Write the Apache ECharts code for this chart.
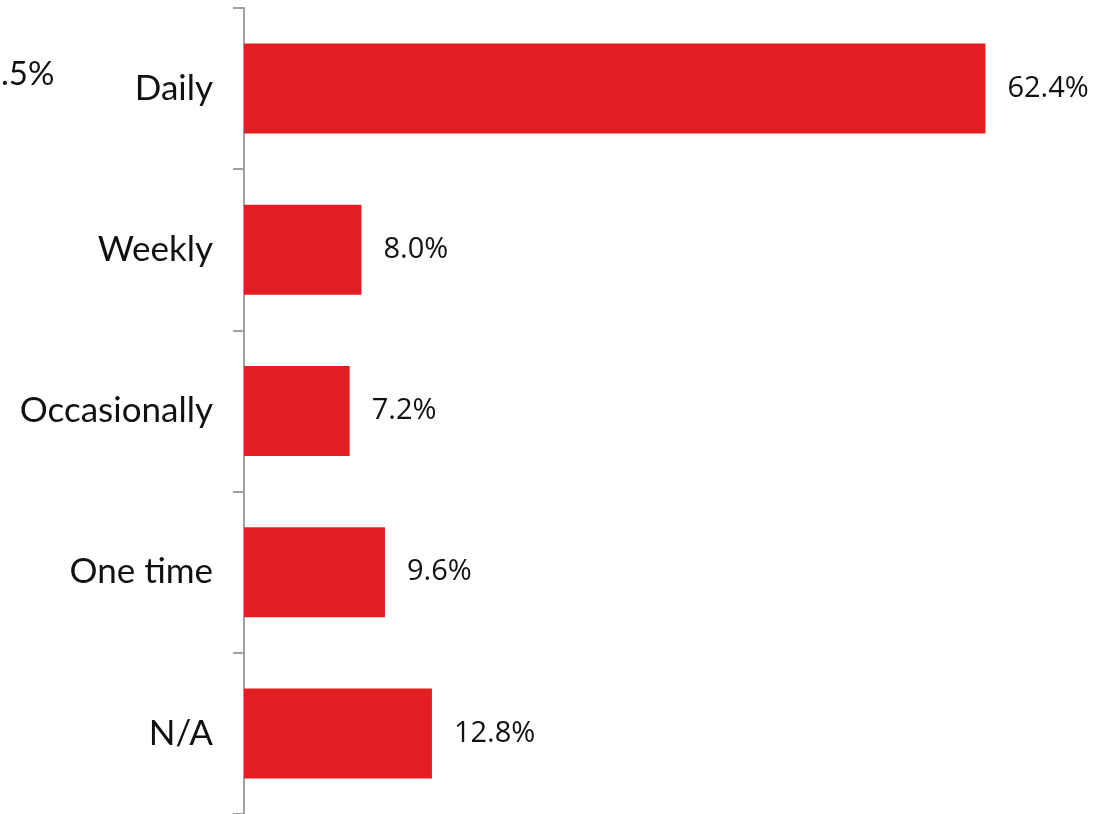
<!DOCTYPE html>
<html>
<head>
<meta charset="utf-8">
<script src="https://cdn.jsdelivr.net/npm/echarts@6/dist/echarts.min.js"></script>
<style>
  html, body { margin: 0; padding: 0; background: #fff; }
  #chart { width: 1115px; height: 814px; }
</style>
</head>
<body>
<div id="chart"></div>
<script>
// data
const categories = ['Daily', 'Weekly', 'Occasionally', 'One time', 'N/A']
const shares = [62.4, 8.0, 7.2, 9.6, 12.8]
// leftover label of a neighbouring panel, cut at the left edge
const strayLabel = '.5%'

const chart = echarts.init(document.getElementById('chart'))

const option = {
  animation: false,
  grid: { left: 244, right: 18, top: 8, bottom: 0 },
  xAxis: {
    type: 'value',
    min: 0,
    max: 70,
    show: false,
    // the long Daily bar is drawn shortened in the original
    breaks: [{ start: 20, end: 32.4, gap: 0.5 }],
    breakArea: { show: false }
  },
  yAxis: {
    type: 'category',
    inverse: true,
    data: categories,
    axisLine: { show: true, lineStyle: { color: '#a0a0a0', width: 2 } },
    axisTick: { show: true, length: 11, lineStyle: { color: '#a0a0a0', width: 2 } },
    axisLabel: {
      margin: 31,
      fontFamily: 'Lato',
      fontSize: 35,
      color: '#111'
    },
    splitLine: { show: false }
  },
  series: [
    {
      type: 'bar',
      data: shares,
      barWidth: 90,
      itemStyle: { color: '#e21e23' },
      label: {
        show: true,
        position: 'right',
        distance: 22,
        fontFamily: 'Open Sans',
        fontSize: 29,
        color: '#111',
        formatter: p => p.value.toFixed(1) + '%'
      }
    }
  ],
  graphic: [
    {
      type: 'text',
      left: 1,
      top: 58,
      style: {
        text: strayLabel,
        font: '33px Lato',
        fill: '#111'
      }
    }
  ]
}

chart.setOption(option)
</script>
</body>
</html>
